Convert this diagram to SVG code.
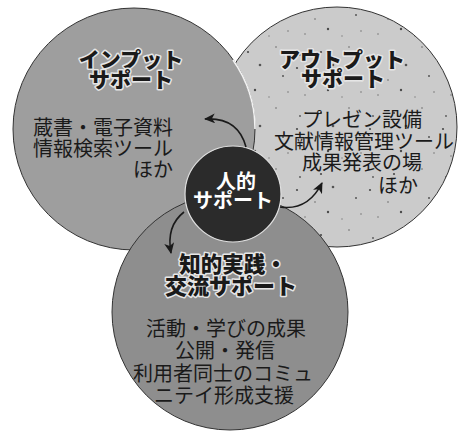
<svg xmlns="http://www.w3.org/2000/svg" width="458" height="434" viewBox="0 0 458 434">
<style>
.t{font-family:"Noto Sans CJK JP","Noto Sans CJK SC",sans-serif;}
.title{font-weight:900;fill:#1a1a1a;stroke:#e6e6e6;stroke-width:3;paint-order:stroke;stroke-linejoin:round;}
.body{font-weight:400;fill:#1a1a1a;font-size:20px;}
.ctr{font-weight:700;fill:#ffffff;font-size:20px;}
.conn{fill:none;stroke:#1a1a1a;stroke-width:1.6;}
</style>
<defs>
<marker id="ah" markerWidth="11" markerHeight="10" refX="10" refY="5" orient="auto" markerUnits="userSpaceOnUse">
<path d="M0,0 L11,5 L0,10 L3,5 z" fill="#1a1a1a"/>
</marker>
<pattern id="speck" width="73" height="61" patternUnits="userSpaceOnUse">
<rect width="73" height="61" fill="#cbcbcb"/>
<circle cx="5" cy="7" r="1.1" fill="#4a4a4a"/>
<circle cx="23" cy="19" r="0.8" fill="#666"/>
<circle cx="41" cy="4" r="1.3" fill="#555"/>
<circle cx="13" cy="34" r="0.7" fill="#666"/>
<circle cx="36" cy="29" r="1.2" fill="#4a4a4a"/>
<circle cx="57" cy="47" r="0.8" fill="#666"/>
<circle cx="64" cy="15" r="1" fill="#555"/>
<circle cx="29" cy="52" r="1.1" fill="#4a4a4a"/>
<circle cx="50" cy="36" r="0.7" fill="#777"/>
<circle cx="8" cy="55" r="0.9" fill="#555"/>
<circle cx="69" cy="31" r="0.7" fill="#666"/>
</pattern>
</defs>
<rect width="458" height="434" fill="#ffffff"/>

<g id="output-support">
<circle cx="337" cy="127" r="120" fill="url(#speck)" stroke="#333" stroke-width="1"/>
<text class="t title" x="342" y="67" text-anchor="middle" font-size="21">アウトプット</text>
<text class="t title" x="343" y="86" text-anchor="middle" font-size="21">サポート</text>
<text class="t body" x="362" y="127" text-anchor="middle" font-size="20.5">プレゼン設備</text>
<text class="t body" x="364" y="149" text-anchor="middle" font-size="20.5">文献情報管理ツール</text>
<text class="t body" x="362" y="170" text-anchor="middle" font-size="20.5">成果発表の場</text>
<text class="t body" x="418" y="193" text-anchor="end" font-size="20.5">ほか</text>
</g>

<g id="input-support">
<circle cx="134" cy="129" r="121" fill="#9e9e9e" stroke="#333" stroke-width="1"/>
<path d="M233,60 A121,121 0 0 1 255,129" fill="none" stroke="#f2f2f2" stroke-width="1.6"/>
<text class="t title" x="131" y="67" text-anchor="middle" font-size="21">インプット</text>
<text class="t title" x="131" y="87" text-anchor="middle" font-size="21">サポート</text>
<text class="t body" x="33" y="135">蔵書・電子資料</text>
<text class="t body" x="33" y="156">情報検索ツール</text>
<text class="t body" x="173" y="177" text-anchor="end">ほか</text>
</g>

<g id="practice-support">
<circle cx="230" cy="312" r="118" fill="#8e8e8e" stroke="#333" stroke-width="1"/>
<text class="t title" x="233" y="272" text-anchor="middle" font-size="21.5">知的実践・</text>
<text class="t title" x="231" y="294" text-anchor="middle" font-size="22">交流サポート</text>
<text class="t body" x="226" y="336" text-anchor="middle" font-size="19.5">活動・学びの成果</text>
<text class="t body" x="225" y="358" text-anchor="middle" font-size="19.5">公開・発信</text>
<text class="t body" x="223" y="381" text-anchor="middle" font-size="19.5">利用者同士のコミュ</text>
<text class="t body" x="224" y="403" text-anchor="middle" font-size="19.5">ニテイ形成支援</text>
</g>

<g id="human-support">
<circle cx="233" cy="194" r="48" fill="#2b2b2b" stroke="#e0e0e0" stroke-width="1.2"/>
<text class="t ctr" x="236" y="189" text-anchor="middle">人的</text>
<text class="t ctr" x="233" y="208" text-anchor="middle">サポート</text>
</g>

<g id="connectors">
<path class="conn" d="M246,147 Q238,117 205,119" marker-end="url(#ah)"/>
<path class="conn" d="M280,207 Q308,211 322,183" marker-end="url(#ah)"/>
<path class="conn" d="M184,212 Q166,226 171,253" marker-end="url(#ah)"/>
</g>
</svg>
